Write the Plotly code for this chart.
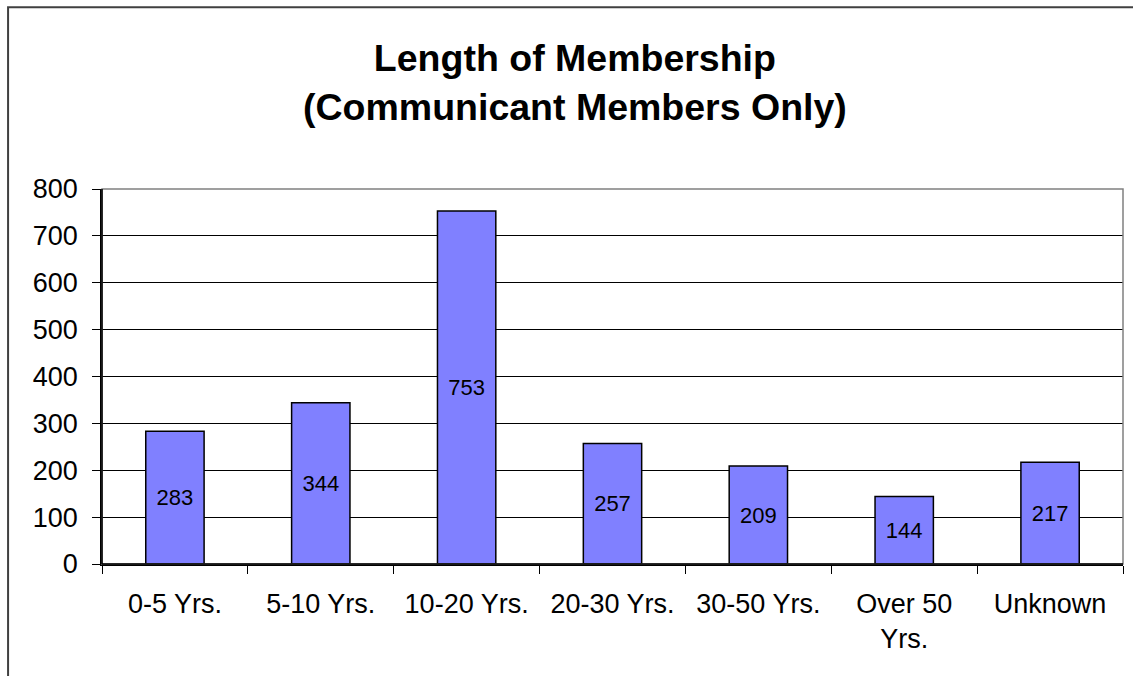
import plotly.graph_objects as go

# Membership tenure buckets and member counts
categories = ["0-5 Yrs.", "5-10 Yrs.", "10-20 Yrs.", "20-30 Yrs.", "30-50 Yrs.", "Over 50<br>Yrs.", "Unknown"]
members = [283, 344, 753, 257, 209, 144, 217]
y_ticks = [0, 100, 200, 300, 400, 500, 600, 700, 800]

FONT = "Liberation Sans, Arial, sans-serif"

fig = go.Figure()
fig.add_trace(go.Bar(
    x=categories,
    y=members,
    marker=dict(color="#8080FF", line=dict(color="black", width=1.5)),
    text=[str(v) for v in members],
    textposition="inside",
    insidetextanchor="middle",
    textfont=dict(family=FONT, size=22, color="black"),
    constraintext="none",
    cliponaxis=False,
))

fig.update_layout(
    width=1133,
    height=676,
    margin=dict(l=102, r=10, t=189, b=112),
    paper_bgcolor="white",
    plot_bgcolor="white",
    bargap=0.6,
    showlegend=False,
    font=dict(family=FONT, color="black"),
)

fig.update_xaxes(
    type="category",
    range=[-0.5, 6.5],
    tickson="boundaries",
    ticks="outside",
    ticklen=8,
    tickcolor="black",
    tickfont=dict(family=FONT, size=27, color="black"),
    ticklabelstandoff=15,
    showline=True,
    linecolor="black",
    linewidth=1.5,
    showgrid=False,
)

fig.update_yaxes(
    range=[0, 800],
    tickvals=y_ticks,
    ticks="outside",
    ticklen=8,
    tickcolor="black",
    tickfont=dict(family=FONT, size=27, color="black"),
    ticklabelstandoff=9,
    showline=True,
    linecolor="black",
    linewidth=1.5,
    showgrid=True,
    gridcolor="black",
    gridwidth=1,
    zeroline=False,
)

# Plot-area frame (top and right edges in grey)
fig.add_shape(type="rect", xref="paper", yref="paper", x0=0, x1=1, y0=0, y1=1,
              line=dict(color="#808080", width=1.5), fillcolor="rgba(0,0,0,0)")
fig.add_shape(type="line", xref="paper", yref="paper", x0=0, x1=0, y0=0, y1=1,
              line=dict(color="black", width=1.5))
fig.add_shape(type="line", xref="paper", yref="paper", x0=0, x1=1, y0=0, y1=0,
              line=dict(color="black", width=1.5))

# Outer chart-area border
fig.add_shape(type="rect", xref="paper", yref="paper",
              x0=-0.092, x1=1.02, y0=-0.34, y1=1.485,
              line=dict(color="#404040", width=2), fillcolor="rgba(0,0,0,0)")

fig.add_annotation(
    text="<b>Length of Membership<br>(Communicant Members Only)</b>",
    xref="paper", yref="paper", x=0.4633, y=1.2853,
    xanchor="center", yanchor="middle", showarrow=False,
    font=dict(family=FONT, size=37.5, color="black"),
)

fig.write_html("out.html")
